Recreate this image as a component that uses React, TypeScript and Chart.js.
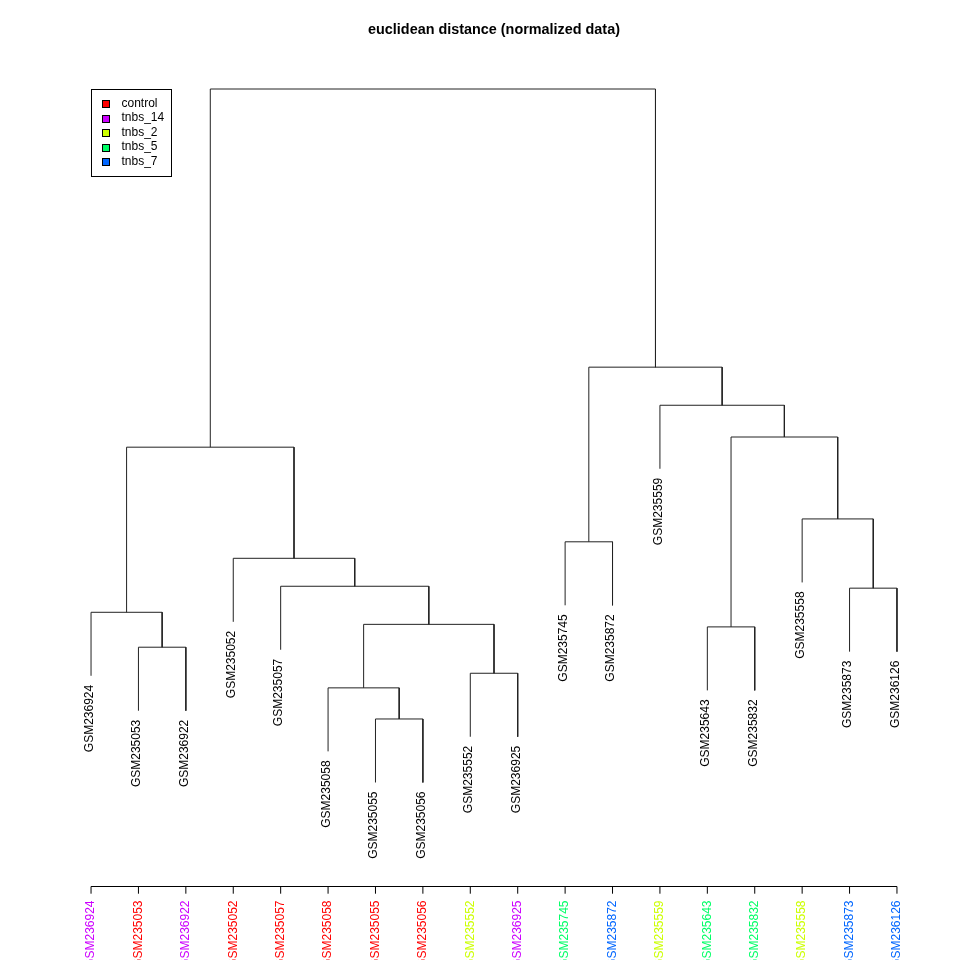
import React, { useEffect, useRef } from "react";
import { Chart, registerables } from "chart.js";

Chart.register(...registerables);

const TITLE = "euclidean distance (normalized data)";

// leaves in dendrogram order
const leafLabels = [
  "GSM236924", "GSM235053", "GSM236922", "GSM235052", "GSM235057", "GSM235058",
  "GSM235055", "GSM235056", "GSM235552", "GSM236925", "GSM235745", "GSM235872",
  "GSM235559", "GSM235643", "GSM235832", "GSM235558", "GSM235873", "GSM236126",
];
const leafGroups = [
  "tnbs_14", "control", "tnbs_14", "control", "control", "control",
  "control", "control", "tnbs_2", "tnbs_14", "tnbs_5", "tnbs_7",
  "tnbs_2", "tnbs_5", "tnbs_5", "tnbs_2", "tnbs_7", "tnbs_7",
];

const groupNames = ["control", "tnbs_14", "tnbs_2", "tnbs_5", "tnbs_7"];
const groupColors = ["#FF0000", "#CC00FF", "#CCFF00", "#00FF66", "#0066FF"];

// hclust-style merge table: negative = leaf position (1-based), positive = earlier merge
const mergeLeft = [-7, -6, -9, -2, -14, 2, -1, -17, -5, -4, -11, -16, 7, 5, -13, 11, 13];
const mergeRight = [-8, 1, -10, -3, -15, 3, 4, -18, 6, 9, -12, 8, 10, 12, 14, 15, 16];
const mergeHeight = [0.8, 5.7, 8.0, 12.1, 15.3, 15.7, 17.6, 21.4, 21.7, 26.1, 28.7, 32.3, 43.6, 45.2, 50.2, 56.2, 100];
const HANG = 10;

const X_MIN = 0.32;
const X_MAX = 18.68;
const Y_MIN = -25.5;
const Y_MAX = 104;

const FONT = "'Liberation Sans', Arial, Helvetica, sans-serif";

function buildTree() {
  const nodeX: number[] = [];
  const leafEnd: number[] = new Array(leafLabels.length).fill(0);
  const segments: { x: number; y: number }[][] = [];
  for (let k = 0; k < mergeHeight.length; k++) {
    const h = mergeHeight[k];
    const child = (c: number) => {
      if (c < 0) {
        leafEnd[-c - 1] = h - HANG;
        return { x: -c, y: h - HANG };
      }
      return { x: nodeX[c - 1], y: mergeHeight[c - 1] };
    };
    const l = child(mergeLeft[k]);
    const r = child(mergeRight[k]);
    nodeX[k] = (l.x + r.x) / 2;
    segments.push([
      { x: l.x, y: l.y },
      { x: l.x, y: h },
      { x: r.x, y: h },
      { x: r.x, y: r.y },
    ]);
  }
  return { segments, leafEnd };
}

export default function App() {
  const ref = useRef<HTMLCanvasElement | null>(null);

  useEffect(() => {
    if (!ref.current) return;
    const { segments, leafEnd } = buildTree();

    const decor = {
      id: "dendroDecor",
      afterDraw(chart: any) {
        const ctx = chart.ctx as CanvasRenderingContext2D;
        const xs = chart.scales.x;
        const ys = chart.scales.y;
        const area = chart.chartArea;
        ctx.save();

        // title
        ctx.fillStyle = "#000";
        ctx.font = `bold 14.4px ${FONT}`;
        ctx.textAlign = "center";
        ctx.textBaseline = "middle";
        ctx.fillText(TITLE, (area.left + area.right) / 2, 30.5);

        // leaf labels on the tree
        ctx.font = `12px ${FONT}`;
        ctx.textAlign = "right";
        ctx.textBaseline = "middle";
        leafLabels.forEach((lab, i) => {
          const px = xs.getPixelForValue(i + 1);
          const py = ys.getPixelForValue(leafEnd[i]) + 9;
          ctx.save();
          ctx.translate(px - 1.5, py);
          ctx.rotate(-Math.PI / 2);
          ctx.fillStyle = "#000";
          ctx.fillText(lab, 0, 0);
          ctx.restore();
        });

        // bottom axis
        const yAxis = area.bottom;
        const x0 = xs.getPixelForValue(1);
        const x1 = xs.getPixelForValue(leafLabels.length);
        ctx.strokeStyle = "#000";
        ctx.lineWidth = 1;
        ctx.beginPath();
        ctx.moveTo(x0, Math.round(yAxis) + 0.5);
        ctx.lineTo(x1, Math.round(yAxis) + 0.5);
        leafLabels.forEach((_, i) => {
          const px = xs.getPixelForValue(i + 1);
          ctx.moveTo(px, Math.round(yAxis) + 0.5);
          ctx.lineTo(px, Math.round(yAxis) + 7.7);
        });
        ctx.stroke();

        leafLabels.forEach((lab, i) => {
          const px = xs.getPixelForValue(i + 1);
          ctx.save();
          ctx.translate(px, yAxis + 14.5);
          ctx.rotate(-Math.PI / 2);
          ctx.fillStyle = groupColors[groupNames.indexOf(leafGroups[i])];
          ctx.fillText(lab, 0, 0);
          ctx.restore();
        });

        // legend anchored at (x=1, y=100) in data coords
        const lx = Math.round(xs.getPixelForValue(1)) + 0.5;
        const ly = Math.round(ys.getPixelForValue(100)) + 0.5;
        const lw = 80;
        const lh = 87;
        ctx.strokeStyle = "#000";
        ctx.lineWidth = 1;
        ctx.strokeRect(lx, ly, lw, lh);
        ctx.textAlign = "left";
        ctx.textBaseline = "middle";
        groupNames.forEach((g, i) => {
          const cy = ly + 14.2 + i * 14.45;
          ctx.fillStyle = groupColors[i];
          ctx.fillRect(Math.round(lx + 10.5), Math.round(cy - 3.5), 7, 7);
          ctx.strokeStyle = "#000";
          ctx.strokeRect(Math.round(lx + 10.5) + 0.5, Math.round(cy - 3.5) + 0.5, 7, 7);
          ctx.fillStyle = "#000";
          ctx.fillText(g, lx + 30, cy);
        });

        ctx.restore();
      },
    };

    const chart = new Chart(ref.current, {
      type: "scatter",
      data: {
        datasets: segments.map((seg, k) => ({
          label: `merge ${k + 1}`,
          data: seg,
          showLine: true,
          borderColor: "#222",
          borderWidth: 1,
          pointRadius: 0,
          tension: 0,
          fill: false,
        })),
      },
      options: {
        animation: false,
        responsive: false,
        layout: { padding: { left: 58.8, right: 30.8, top: 63.6, bottom: 74 } },
        scales: {
          x: { type: "linear", min: X_MIN, max: X_MAX, display: false },
          y: { type: "linear", min: Y_MIN, max: Y_MAX, display: false },
        },
        plugins: {
          legend: { display: false },
          tooltip: { enabled: false },
          title: { display: false },
        },
      },
      plugins: [decor],
    });
    return () => chart.destroy();
  }, []);

  return (
    <div style={{ position: "absolute", left: 0, top: 0, width: 960, height: 960, background: "#fff" }}>
      <canvas ref={ref} width={960} height={960} style={{ width: 960, height: 960 }} />
    </div>
  );
}
